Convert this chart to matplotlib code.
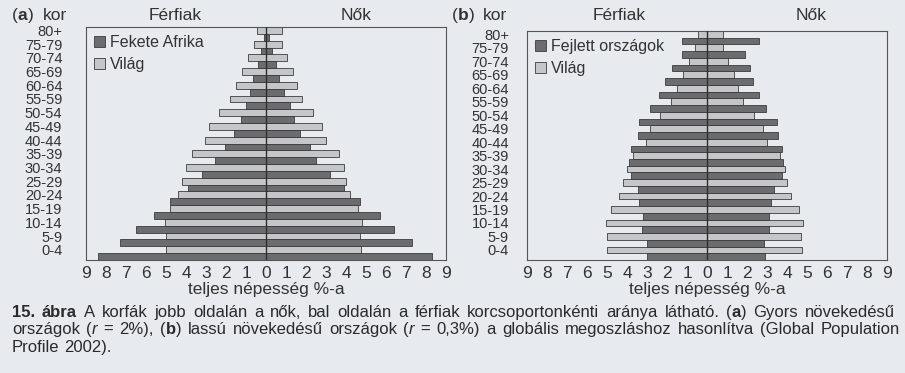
import numpy as np
import matplotlib
matplotlib.use('Agg')
import matplotlib.pyplot as plt
from matplotlib.patches import Patch

plt.rcParams['font.family'] = ['Liberation Sans', 'DejaVu Sans']

# korcsoportok alulrol felfele
ages = ['0-4', '5-9', '10-14', '15-19', '20-24', '25-29', '30-34', '35-39', '40-44',
        '45-49', '50-54', '55-59', '60-64', '65-69', '70-74', '75-79', '80+']

world_m = [4.98, 4.98, 5.07, 4.82, 4.42, 4.20, 4.00, 3.68, 3.03, 2.85, 2.35, 1.78, 1.50, 1.21, 0.91, 0.58, 0.46]
world_f = [4.77, 4.72, 4.81, 4.59, 4.22, 4.00, 3.90, 3.63, 3.02, 2.81, 2.36, 1.82, 1.56, 1.33, 1.07, 0.82, 0.81]

africa_m = [8.4, 7.3, 6.5, 5.6, 4.8, 3.9, 3.2, 2.55, 2.05, 1.6, 1.25, 1.0, 0.8, 0.63, 0.38, 0.25, 0.1]
africa_f = [8.3, 7.3, 6.4, 5.7, 4.7, 3.9, 3.2, 2.5, 2.2, 1.7, 1.4, 1.2, 0.9, 0.63, 0.5, 0.28, 0.15]

devel_m = [3.0, 3.02, 3.25, 3.22, 3.38, 3.43, 3.8, 3.88, 3.8, 3.47, 3.38, 2.85, 2.42, 2.08, 1.75, 1.27, 1.27]
devel_f = [2.92, 2.87, 3.12, 3.12, 3.2, 3.33, 3.75, 3.82, 3.75, 3.53, 3.48, 2.95, 2.62, 2.32, 2.17, 1.9, 2.6]

BG = '#e7eaee'
DARK = '#6c6c6e'
LIGHT = '#c4c6c9'
EDGE = '#3c3c3c'
W, H = 905, 373

fig = plt.figure(figsize=(W / 100, H / 100), dpi=100, facecolor=BG)


def pyramid(ax, reg_m, reg_f, reg_name):
    y = np.arange(len(ages))
    ax.set_facecolor(BG)
    ax.barh(y + 0.25, -np.array(world_m), height=0.5, color=LIGHT, edgecolor=EDGE, lw=0.6)
    ax.barh(y + 0.25, world_f, height=0.5, color=LIGHT, edgecolor=EDGE, lw=0.6)
    ax.barh(y - 0.25, -np.array(reg_m), height=0.5, color=DARK, edgecolor=EDGE, lw=0.6)
    ax.barh(y - 0.25, reg_f, height=0.5, color=DARK, edgecolor=EDGE, lw=0.6)
    ax.axvline(0, color='#2e2e2e', lw=1.0, zorder=3)
    ax.set_xlim(-9, 9)
    ax.set_ylim(-0.5, len(ages) - 0.5)
    ticks = np.arange(-9, 10)
    ax.set_xticks(ticks)
    ax.set_xticklabels([str(abs(t)) for t in ticks], fontsize=12.5, color='#333333')
    ax.set_yticks(y + 0.25)
    ax.set_yticklabels(ages, fontsize=10.5, color='#333333')
    ax.tick_params(length=0)
    ax.tick_params(axis='x', pad=4)
    for s in ax.spines.values():
        s.set_color('#555555')
        s.set_linewidth(0.8)
    ax.set_xlabel('teljes népesség %-a', fontsize=12.5, color='#333333', labelpad=1)
    handles = [Patch(facecolor=DARK, edgecolor=EDGE, lw=0.6, label=reg_name),
               Patch(facecolor=LIGHT, edgecolor=EDGE, lw=0.6, label='Világ')]
    ax.legend(handles=handles, loc='upper left', bbox_to_anchor=(0, 1), frameon=False,
              fontsize=11.5, handlelength=0.7, handleheight=0.7, handletextpad=0.3,
              labelspacing=0.45, borderaxespad=0.2, borderpad=0.3, labelcolor='#333333')


ax1 = fig.add_axes([86 / W, 1 - 260 / H, 360 / W, 233 / H])
pyramid(ax1, africa_m, africa_f, 'Fekete Afrika')
ax1.tick_params(axis='y', pad=17)

ax2 = fig.add_axes([527 / W, 1 - 260 / H, 360 / W, 229 / H])
pyramid(ax2, devel_m, devel_f, 'Fejlett országok')
ax2.tick_params(axis='y', pad=13)

r = fig.canvas.get_renderer()


def draw_line(pieces, x0, base, size, x1=None, color='#2a2a2a'):
    # base: az alapvonal pixelben, felulrol
    words = [[]]
    for txt, wt, st in pieces:
        parts = txt.split(' ')
        for k, p in enumerate(parts):
            if k > 0:
                words.append([])
            if p:
                words[-1].append((p, wt, st))
    words = [w for w in words if w]
    arts = []
    for word in words:
        arts.append([fig.text(0, 1 - base / H, p, fontsize=size, fontweight=wt, fontstyle=st,
                              va='baseline', ha='left', color=color) for p, wt, st in word])
    widths = [[t.get_window_extent(r).width for t in wa] for wa in arts]
    total = sum(sum(ws) for ws in widths)
    probe = fig.text(0, 0, 'a a', fontsize=size)
    probe2 = fig.text(0, 0, 'aa', fontsize=size)
    space = probe.get_window_extent(r).width - probe2.get_window_extent(r).width
    probe.remove()
    probe2.remove()
    gap = space
    if x1 is not None and len(words) > 1:
        gap = max((x1 - x0 - total) / (len(words) - 1), 0.6 * space)
    x = x0
    for wa, ws in zip(arts, widths):
        for t, w in zip(wa, ws):
            t.set_x(x / W)
            x += w
        x += gap


N, B, I = ('normal', 'normal'), ('bold', 'normal'), ('normal', 'italic')

# fejlecek
draw_line([('(', *N), ('a', *B), (')', *N)], 12, 20, 12.5, color='#333333')
fig.text(43 / W, 1 - 20 / H, 'kor', fontsize=12.5, va='baseline', color='#333333')
fig.text(175 / W, 1 - 20 / H, 'Férfiak', fontsize=12.5, va='baseline', ha='center', color='#333333')
fig.text(356 / W, 1 - 20 / H, 'Nők', fontsize=12.5, va='baseline', ha='center', color='#333333')

draw_line([('(', *N), ('b', *B), (')', *N)], 452, 20, 12.5, color='#333333')
fig.text(483 / W, 1 - 20 / H, 'kor', fontsize=12.5, va='baseline', color='#333333')
fig.text(619 / W, 1 - 20 / H, 'Férfiak', fontsize=12.5, va='baseline', ha='center', color='#333333')
fig.text(811 / W, 1 - 20 / H, 'Nők', fontsize=12.5, va='baseline', ha='center', color='#333333')

# abrafelirat
line1 = [('15. ábra', *B),
         ('  A korfák jobb oldalán a nők, bal oldalán a férfiak korcsoportonkénti aránya látható. (', *N),
         ('a', *B), (') Gyors növekedésű', *N)]
line2 = [('országok (', *N), ('r', *I), (' = 2%), (', *N), ('b', *B),
         (') lassú növekedésű országok (', *N), ('r', *I),
         (' = 0,3%) a globális megoszláshoz hasonlítva (Global Population', *N)]
line3 = [('Profile 2002).', *N)]

draw_line(line1, 12, 317, 12, x1=895)
draw_line(line2, 12, 334, 12, x1=900)
draw_line(line3, 12, 352, 12)

fig.savefig('out.png', dpi=100, facecolor=BG)
